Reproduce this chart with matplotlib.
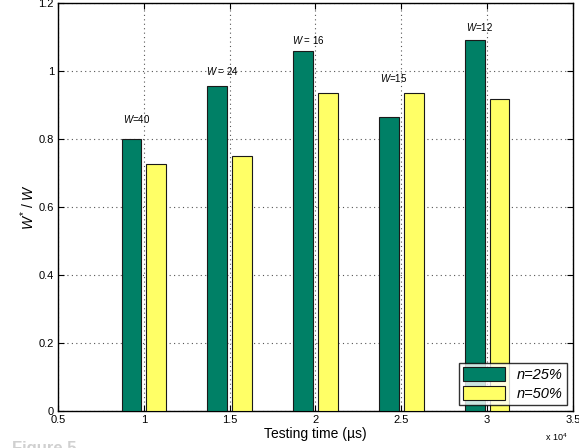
import numpy as np
import matplotlib
matplotlib.use("Agg")
import matplotlib.pyplot as plt
from matplotlib.ticker import FuncFormatter

plt.rcParams['font.family'] = ['Liberation Sans', 'DejaVu Sans']
plt.rcParams['mathtext.fontset'] = 'custom'
plt.rcParams['mathtext.rm'] = 'Liberation Sans'
plt.rcParams['mathtext.it'] = 'Liberation Sans:italic'

# testing time (us)
times = [10000, 15000, 20000, 25000, 30000]
ratio_n25 = [0.800, 0.956, 1.058, 0.866, 1.090]
ratio_n50 = [0.725, 0.750, 0.936, 0.936, 0.917]
w_labels = ['$W$=40', '$W$ = 24', '$W$ = 16', '$W$=15', '$W$=12']
label_y = [0.86, 1.00, 1.09, 0.98, 1.13]

fig = plt.figure(figsize=(5.79, 4.48), dpi=100)
ax = fig.add_axes([0.1002, 0.0826, 0.8894, 0.9107])

off = 720
bw = 1150
x = np.array(times)
ax.bar(x - off, ratio_n25, width=bw, color='#008066', edgecolor='#1a1a1a',
       linewidth=0.8, label='n=25%', zorder=3)
ax.bar(x + off, ratio_n50, width=bw, color='#ffff66', edgecolor='#1a1a1a',
       linewidth=0.8, label='n=50%', zorder=3)

for xi, lab, ly in zip(times, w_labels, label_y):
    ax.text(xi - off + 300, ly, lab, fontsize=7, ha='center', va='center', zorder=4)

ax.set_xlim(5000, 35000)
ax.set_ylim(0, 1.2)
ax.set_xticks(np.arange(5000, 35001, 5000))
ax.set_yticks([0, 0.2, 0.4, 0.6, 0.8, 1.0, 1.2])
ax.xaxis.set_major_formatter(FuncFormatter(lambda v, p: '%g' % (v / 1e4)))
ax.yaxis.set_major_formatter(FuncFormatter(lambda v, p: '%g' % v))
ax.tick_params(direction='in', top=True, right=True, labelsize=8, length=4, pad=3)
ax.grid(True, linestyle=(0, (1, 3)), color='#555555', linewidth=0.8, zorder=0)
for s in ax.spines.values():
    s.set_linewidth(1.0)

ax.set_xlabel('Testing time (\u00b5s)', fontsize=10, labelpad=1)
ax.set_ylabel('$W^{*}$ / $W$', fontsize=10, labelpad=1)
fig.text(545 / 579, 1 - 437 / 448, 'x 10$^{4}$', fontsize=6.5, ha='left', va='center')

leg = ax.legend(loc='lower right', frameon=True, fancybox=False,
                edgecolor='black', borderaxespad=0.4, handlelength=2.9,
                handleheight=1.1, labelspacing=0.25, borderpad=0.3,
                prop={'style': 'italic', 'size': 10.5})
leg.get_frame().set_linewidth(1.0)
leg.set_zorder(5)

fig.text(12 / 579, 1 - 441 / 448, 'Figure 5', fontsize=12, fontweight='bold',
         color='#d0d0d0', ha='left', va='top')

fig.savefig('out.png', dpi=100)
